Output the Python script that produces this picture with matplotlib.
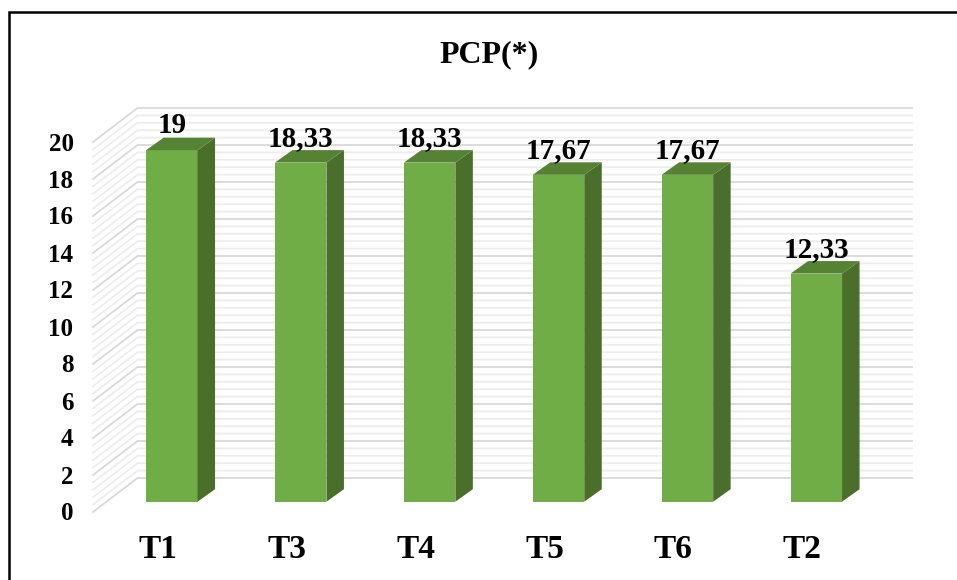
import matplotlib.pyplot as plt
from matplotlib.patches import Polygon
from matplotlib.lines import Line2D

categories = ["T1", "T3", "T4", "T5", "T6", "T2"]
values = [19, 18.33, 18.33, 17.67, 17.67, 12.33]
yticks = [0, 2, 4, 6, 8, 10, 12, 14, 16, 18, 20]
title = "PCP(*)"

W, H = 957, 580
px_cat = 128.9      # pixels per category
px_val = 18.5       # pixels per unit of value
x_first = 171.8     # centre of the first bar
y_zero = 501.7      # baseline of the bars

plt.rcParams['font.family'] = ['Liberation Serif', 'DejaVu Serif']
plt.rcParams['font.weight'] = 'bold'

fig = plt.figure(figsize=(W / 100, H / 100), dpi=100)
ax = fig.add_axes([0, 0, 1, 1])
ax.set_xlim(-x_first / px_cat, (W - x_first) / px_cat)
ax.set_ylim(-(H - y_zero) / px_val, y_zero / px_val)
ax.axis('off')

def dx(p):
    return p / px_cat

def dy(p):
    return p / px_val

# walls: front edge and back edge of the left wall, then right end of the back wall
x_front = dx(93 - x_first)
x_back = dx(137.5 - x_first)
x_right = dx(912 - x_first)
y_front = dy(y_zero - 512)
y_back = dy(y_zero - 478)

# gridlines every 0.4, heavier on the labelled ticks
for n in range(51):
    v = n * 0.4
    major = n % 5 == 0
    col = '#d9d9d9' if major else '#ededed'
    ax.plot([x_front, x_back, x_right], [v + y_front, v + y_back, v + y_back],
            color=col, lw=1.3, zorder=2 if major else 1, solid_joinstyle='miter')

# bars as front, side and top faces
bar_w = dx(51.5)
depth_x = dx(17.5)
depth_y = dy(12.5)
for i, v in enumerate(values):
    l = i - bar_w / 2
    r = i + bar_w / 2
    ax.add_patch(Polygon([(l, 0), (r, 0), (r, v), (l, v)], fc='#70ad47', ec='none', zorder=5))
    ax.add_patch(Polygon([(r, 0), (r + depth_x, depth_y), (r + depth_x, v + depth_y), (r, v)],
                         fc='#4a6f2b', ec='none', zorder=5))
    ax.add_patch(Polygon([(l, v), (r, v), (r + depth_x, v + depth_y), (l + depth_x, v + depth_y)],
                         fc='#568234', ec='none', zorder=5))
    ax.text(i, v + dy(24.5), f"{v:g}".replace('.', ','), ha='center', va='center',
            fontsize=21, color='black', zorder=6)
    ax.text(i - dx(14), dy(y_zero - 549.5), categories[i], ha='center', va='center',
            fontsize=24, color='black', zorder=6)

for t in yticks:
    ax.text(dx(73.5 - x_first), t + y_front - dy(2), str(t), ha='right', va='center',
            fontsize=18, color='black', zorder=6)

ax.text(dx(489 - x_first), dy(y_zero - 55), title, ha='center', va='center',
        fontsize=23, color='black', zorder=6)

# outer frame, open on the right and at the bottom
fig.add_artist(Line2D([8.5 / W, 8.5 / W, 1], [0, 1 - 12 / H, 1 - 12 / H],
                      color='black', lw=1.8, solid_joinstyle='miter'))

fig.savefig('out.png', dpi=100, facecolor='white')
